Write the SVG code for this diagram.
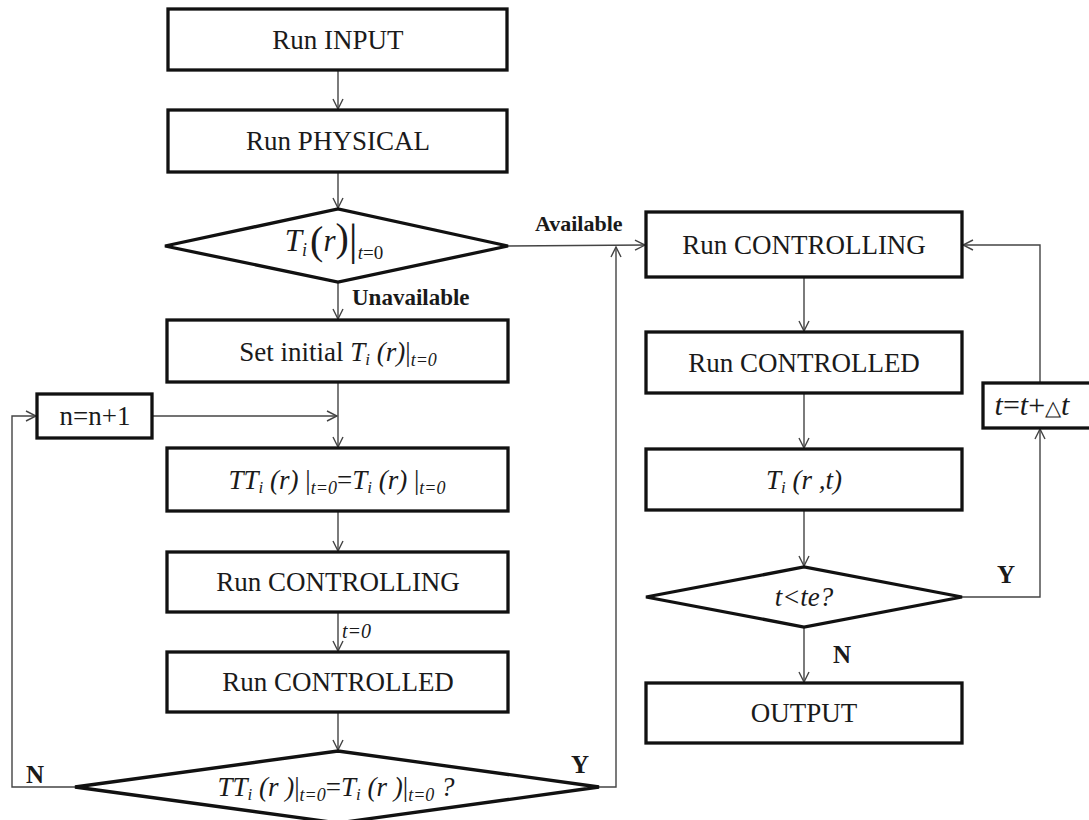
<svg xmlns="http://www.w3.org/2000/svg" width="1089" height="820" viewBox="0 0 1089 820" font-family="Liberation Serif, Times New Roman, serif">
<style>
.box{fill:#fff;stroke:#111;stroke-width:3.3}
text{font-family:'Liberation Serif','Times New Roman',serif;fill:#1a1a1a}
.t{font-size:27px;text-anchor:middle}
.i{font-style:italic}
.s{font-size:18px;font-style:italic}
.lb{font-weight:bold}
.c{fill:none;stroke:#444;stroke-width:1.4}
</style>
<defs>
<marker id="ah" viewBox="0 0 12 12" refX="11" refY="6" markerWidth="12" markerHeight="12" orient="auto" markerUnits="userSpaceOnUse">
<path d="M1,1 L11,6 L1,11" fill="none" stroke="#444" stroke-width="1.4"/>
</marker>
</defs>
<rect width="1089" height="820" fill="#fff"/>
<g id="connectors">
<line class="c" x1="338" y1="70" x2="338" y2="109" marker-end="url(#ah)"/>
<line class="c" x1="338" y1="172" x2="338" y2="208" marker-end="url(#ah)"/>
<line class="c" x1="338" y1="282" x2="338" y2="319" marker-end="url(#ah)"/>
<line class="c" x1="338" y1="382" x2="338" y2="447" marker-end="url(#ah)"/>
<line class="c" x1="152" y1="416" x2="337" y2="416" marker-end="url(#ah)"/>
<line class="c" x1="338" y1="511" x2="338" y2="551" marker-end="url(#ah)"/>
<line class="c" x1="338" y1="612" x2="338" y2="651" marker-end="url(#ah)"/>
<line class="c" x1="338" y1="712" x2="338" y2="750" marker-end="url(#ah)"/>
<polyline class="c" points="75,787 12,787 12,416 36,416" marker-end="url(#ah)"/>
<polyline class="c" points="599,787 616,787 616,247" marker-end="url(#ah)"/>
<line class="c" x1="508" y1="246" x2="645" y2="245" marker-end="url(#ah)"/>
<line class="c" x1="804" y1="277" x2="804" y2="331" marker-end="url(#ah)"/>
<line class="c" x1="804" y1="393" x2="804" y2="448" marker-end="url(#ah)"/>
<line class="c" x1="804" y1="510" x2="804" y2="566" marker-end="url(#ah)"/>
<line class="c" x1="804" y1="627" x2="804" y2="682" marker-end="url(#ah)"/>
<polyline class="c" points="962,597 1040,597 1040,429" marker-end="url(#ah)"/>
<polyline class="c" points="1040,383 1040,245 963,245" marker-end="url(#ah)"/>
<text class="lb" x="535" y="231" font-size="22">Available</text>
<text class="lb" x="352" y="305" font-size="23">Unavailable</text>
<text class="i" x="342" y="638" font-size="20">t=0</text>
<text class="lb" x="26" y="783" font-size="25">N</text>
<text class="lb" x="571" y="773" font-size="25">Y</text>
<text class="lb" x="997" y="583" font-size="25">Y</text>
<text class="lb" x="833" y="663" font-size="25">N</text>
</g>
<g id="n-input">
<rect class="box" x="168" y="9" width="339" height="61"/>
<text class="t" x="338" y="49">Run INPUT</text>
</g>
<g id="n-physical">
<rect class="box" x="168" y="110" width="339" height="62"/>
<text class="t" x="338" y="150">Run PHYSICAL</text>
</g>
<g id="n-check-initial">
<polygon class="box" points="165,246 338,209 508,246 338,282"/>
<text class="t" x="334" y="251"><tspan class="i" font-size="31">T</tspan><tspan class="i" font-size="18" dy="5">i</tspan><tspan font-size="40" dx="3" dy="-2">(</tspan><tspan class="i" font-size="31" dy="-3">r</tspan><tspan font-size="40">)</tspan><tspan font-size="44" dy="4">|</tspan><tspan class="i" font-size="19" dy="4">t</tspan><tspan font-size="19">=0</tspan></text>
</g>
<g id="n-set-initial">
<rect class="box" x="167" y="320" width="341" height="62"/>
<text class="t" x="338" y="361">Set initial <tspan class="i">T</tspan><tspan class="i" font-size="17" dy="4">i</tspan><tspan class="i" dy="-4"> (r)</tspan>|<tspan class="s" dy="5">t=0</tspan></text>
</g>
<g id="n-incr">
<rect class="box" x="37" y="394" width="115" height="44"/>
<text class="t" x="95" y="425">n=n+1</text>
</g>
<g id="n-tt">
<rect class="box" x="167" y="448" width="341" height="63"/>
<text class="t" x="337" y="489"><tspan class="i">TT</tspan><tspan class="i" font-size="17" dy="4">i</tspan><tspan class="i" dy="-4"> (r) </tspan>|<tspan class="s" dy="5">t=0</tspan><tspan dy="-5">=</tspan><tspan class="i">T</tspan><tspan class="i" font-size="17" dy="4">i</tspan><tspan class="i" dy="-4"> (r) </tspan>|<tspan class="s" dy="5">t=0</tspan></text>
</g>
<g id="n-controlling-1">
<rect class="box" x="167" y="552" width="341" height="60"/>
<text class="t" x="338" y="591">Run CONTROLLING</text>
</g>
<g id="n-controlled-1">
<rect class="box" x="167" y="652" width="341" height="60"/>
<text class="t" x="338" y="691">Run CONTROLLED</text>
</g>
<g id="n-converged">
<polygon class="box" points="75,787 338,751 599,787 338,823"/>
<text class="t" x="336" y="796"><tspan class="i">TT</tspan><tspan class="i" font-size="17" dy="4">i</tspan><tspan class="i" dy="-4"> (r )</tspan>|<tspan class="s" dy="5">t=0</tspan><tspan dy="-5">=</tspan><tspan class="i">T</tspan><tspan class="i" font-size="17" dy="4">i</tspan><tspan class="i" dy="-4"> (r )</tspan>|<tspan class="s" dy="5">t=0</tspan><tspan class="i" dy="-5"> ?</tspan></text>
</g>
<g id="n-controlling-2">
<rect class="box" x="646" y="212" width="316" height="65"/>
<text class="t" x="804" y="254">Run CONTROLLING</text>
</g>
<g id="n-controlled-2">
<rect class="box" x="646" y="332" width="316" height="61"/>
<text class="t" x="804" y="372">Run CONTROLLED</text>
</g>
<g id="n-temp">
<rect class="box" x="646" y="449" width="316" height="61"/>
<text class="t" x="804" y="489"><tspan class="i">T</tspan><tspan class="i" font-size="17" dy="4">i</tspan><tspan class="i" dy="-4"> (r ,t)</tspan></text>
</g>
<g id="n-time-check">
<polygon class="box" points="646,597 804,567 962,597 804,627"/>
<text class="t i" x="804" y="606">t&lt;te?</text>
</g>
<g id="n-output">
<rect class="box" x="646" y="683" width="316" height="60"/>
<text class="t" x="804" y="722">OUTPUT</text>
</g>
<g id="n-step">
<rect class="box" x="983" y="383" width="112" height="45"/>
<text class="t" x="1032" y="415" style="font-size:30px"><tspan class="i">t</tspan>=<tspan class="i">t</tspan>+<tspan font-size="21">△</tspan><tspan class="i">t</tspan></text>
</g>
</svg>
